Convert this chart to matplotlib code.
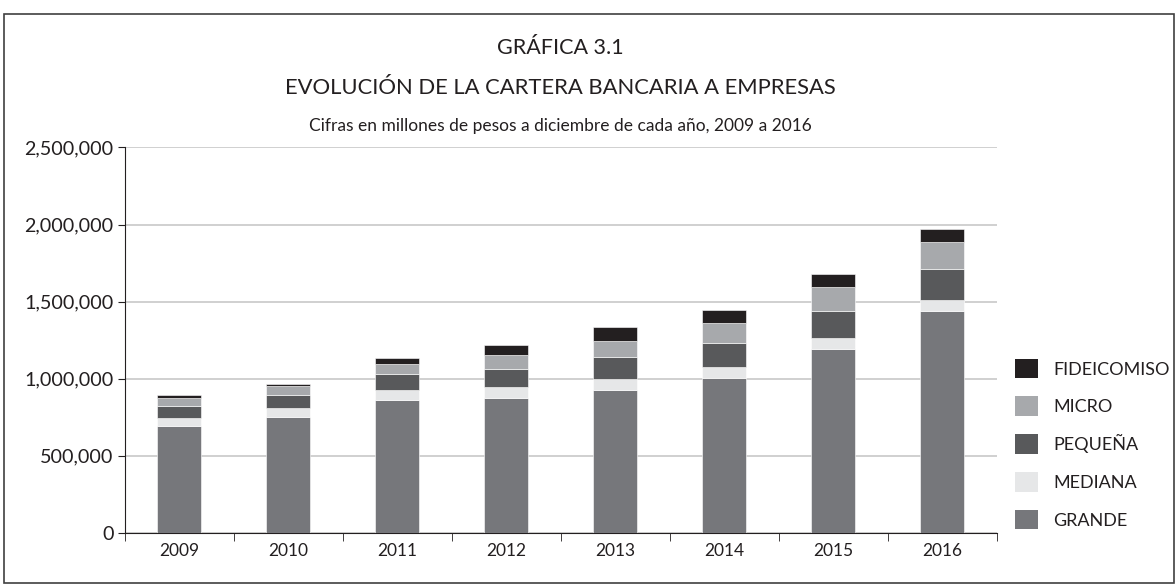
import matplotlib
matplotlib.use('Agg')
import matplotlib.pyplot as plt
from matplotlib.patches import Rectangle, Patch
from matplotlib.ticker import FuncFormatter

plt.rcParams['font.family'] = ['Lato', 'DejaVu Sans']

years = ['2009', '2010', '2011', '2012', '2013', '2014', '2015', '2016']
grande = [695000, 749000, 860000, 877000, 924000, 1005000, 1195000, 1440000]
mediana = [50000, 61000, 70000, 69500, 71500, 71500, 69500, 69000]
pequena = [75000, 84000, 99000, 119000, 143000, 156000, 175000, 201000]
micro = [57000, 58500, 64000, 91000, 106500, 132000, 156000, 178000]
fideicomiso = [15000, 15000, 41500, 63500, 91000, 80000, 84500, 80000]

series = [
    ('GRANDE', grande, '#76777b'),
    ('MEDIANA', mediana, '#e6e7e8'),
    ('PEQUEÑA', pequena, '#58595b'),
    ('MICRO', micro, '#a7a9ac'),
    ('FIDEICOMISO', fideicomiso, '#231f20'),
]

fig = plt.figure(figsize=(11.76, 5.85), dpi=100)
ax = fig.add_axes([0.106, 0.089, 0.7415, 0.659])

x = list(range(len(years)))
bottom = [0] * len(years)
for name, vals, col in series:
    ax.bar(x, vals, width=0.4, bottom=bottom, color=col, edgecolor='white',
           linewidth=0.4, zorder=3)
    bottom = [b + v for b, v in zip(bottom, vals)]

ax.set_xlim(-0.5, len(years) - 0.5)
ax.set_ylim(0, 2500000)
ax.set_yticks(range(0, 2500001, 500000))
ax.yaxis.set_major_formatter(FuncFormatter(lambda v, p: f'{int(v):,}'))
ax.grid(axis='y', color='#c8c8c8', linewidth=1.2, zorder=0)

ax.set_xticks(x)
ax.set_xticklabels(years)
ax.set_xticks([i + 0.5 for i in range(-1, len(years))], minor=True)
ax.tick_params(axis='x', which='major', length=0, pad=7, labelsize=12.5, colors='#231f20')
ax.tick_params(axis='x', which='minor', length=6, direction='out', color='#231f20')
ax.tick_params(axis='y', length=5, labelsize=14.2, pad=3, colors='#231f20')

for s in ['top', 'right']:
    ax.spines[s].set_visible(False)
ax.spines['left'].set_color('#231f20')
ax.spines['bottom'].set_color('#231f20')

cx = 0.106 + 0.7415 / 2
fig.text(cx, 1 - 48 / 585, 'GRÁFICA 3.1', ha='center', va='center', fontsize=15.5,
         color='#231f20')
fig.text(cx, 1 - 88 / 585, 'EVOLUCIÓN DE LA CARTERA BANCARIA A EMPRESAS', ha='center',
         va='center', fontsize=15.8, color='#231f20')
fig.text(cx, 1 - 126 / 585, 'Cifras en millones de pesos a diciembre de cada año, 2009 a 2016',
         ha='center', va='center', fontsize=12.5, color='#231f20')

handles = [Patch(facecolor=col, label=name) for name, vals, col in reversed(series)]
fig.legend(handles=handles, loc='center left', bbox_to_anchor=(0.849, 1 - 444 / 585),
           frameon=False, fontsize=13, handlelength=1.3, handleheight=1.3,
           labelspacing=1.0, handletextpad=0.85, labelcolor='#231f20')

fig.patches.append(Rectangle((0.003, 0.004), 0.995, 0.972, transform=fig.transFigure,
                             fill=False, edgecolor='#404040', linewidth=1.2))

fig.savefig('out.png', dpi=100)
